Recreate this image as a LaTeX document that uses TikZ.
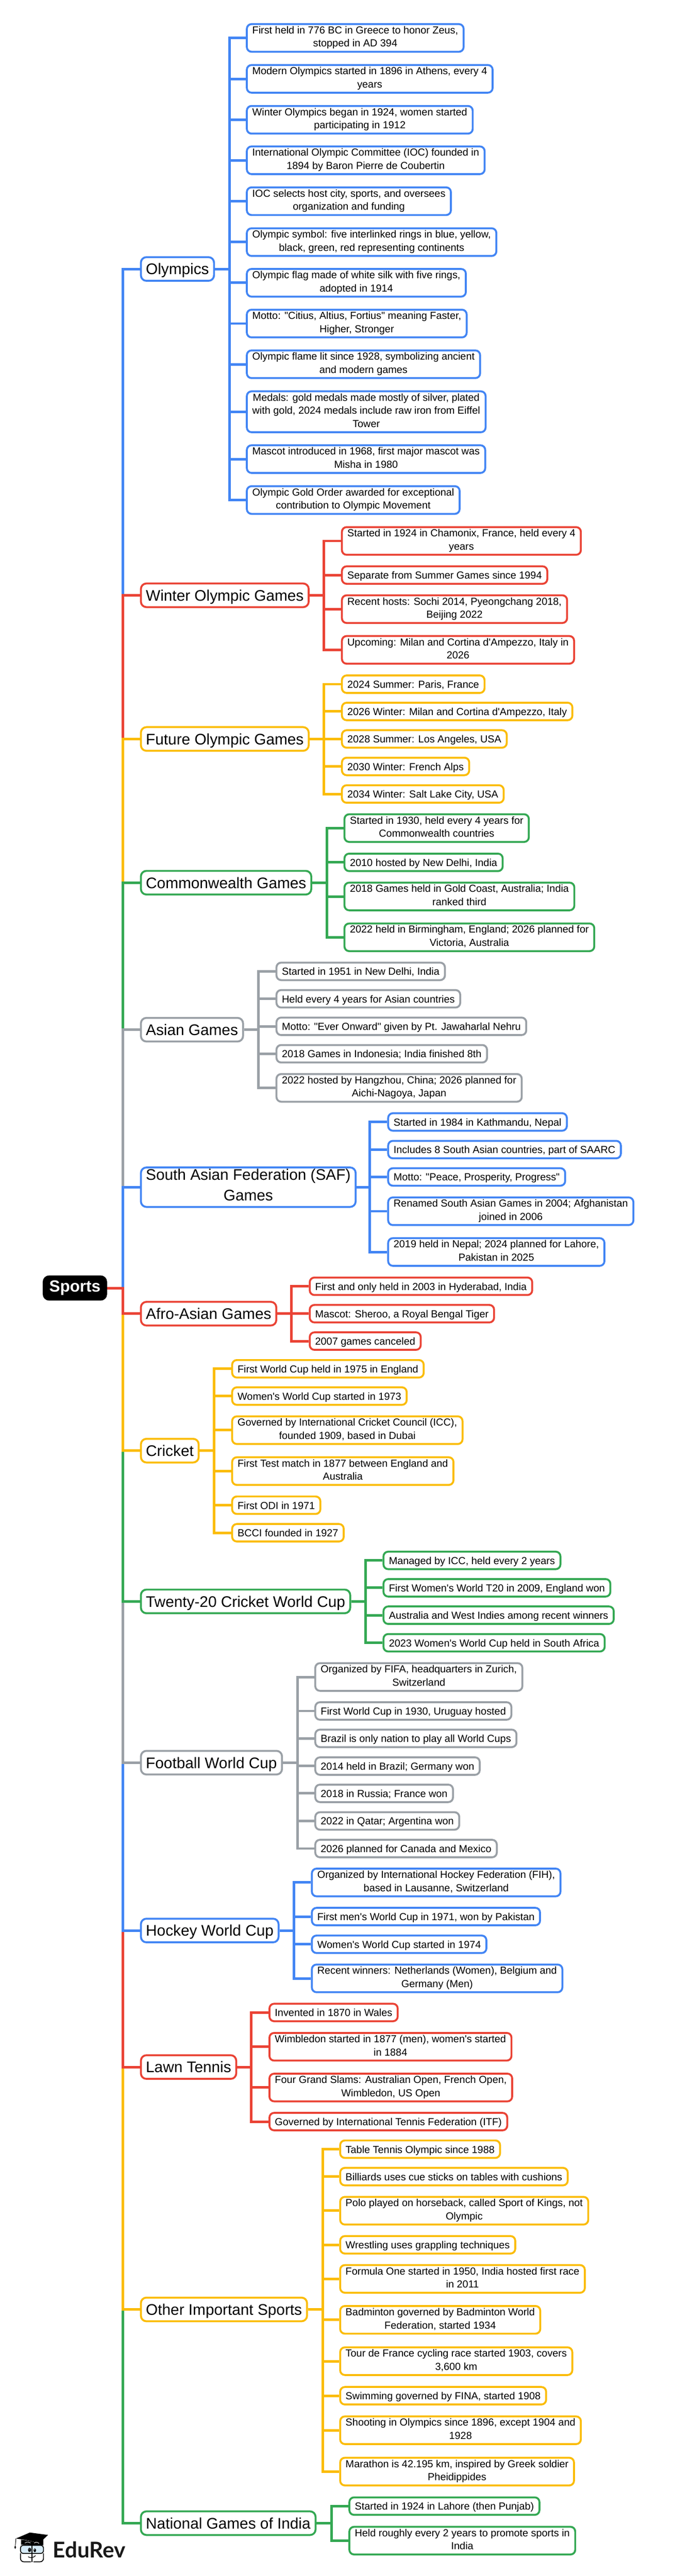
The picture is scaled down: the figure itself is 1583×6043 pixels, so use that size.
\documentclass[tikz,border=0pt]{standalone}
\usepackage{fontspec}
\newfontfamily\arial{Liberation Sans}
\newfontfamily\lato{Lato}[BoldFont={Lato Bold}]
\definecolor{gblue}{HTML}{4285F4}
\definecolor{gred}{HTML}{EA4335}
\definecolor{gyellow}{HTML}{FBBC04}
\definecolor{ggreen}{HTML}{34A853}
\definecolor{ggrey}{HTML}{9AA0A6}
\definecolor{glass}{HTML}{D6EBF8}
\tikzset{
  leafbox/.style={draw=#1,fill=white,line width=4.5pt,rounded corners=11pt,anchor=west,xshift=2.25pt,
    align=center,inner xsep=12.75pt,inner ysep=5pt,text=black,
    font=\arial\fontsize{24}{31}\selectfont,
    execute at begin node={\rule{0pt}{24.5pt}},execute at end node={\rule[-6.5pt]{0pt}{6.5pt}}},
  branchbox/.style={draw=#1,fill=white,line width=4.5pt,rounded corners=13pt,anchor=west,xshift=2.25pt,
    align=center,inner xsep=11.75pt,inner ysep=3.75pt,text=black,
    font=\arial\fontsize{36}{48}\selectfont,
    execute at begin node={\rule{0pt}{37pt}},execute at end node={\rule[-11pt]{0pt}{11pt}}},
  rootbox/.style={fill=black,rounded corners=15pt,anchor=west,text=white,minimum width=151pt,minimum height=59pt,
    inner sep=0pt,font=\arial\bfseries\fontsize{38}{46}\selectfont},
  conn/.style={draw=#1,line width=6pt},
}
\begin{document}
\begin{tikzpicture}[x=1pt,y=-1pt]
\useasboundingbox[fill=white] (0,0) rectangle (1583,6043);
% root
\node[rootbox] (root) at (100,3021.5) {Sports};
\coordinate (tr) at (288.5,0);
% branches
\node[branchbox=gblue] (olympics) at (326,631) {Olympics};
\node[branchbox=gred] (winter) at (326,1396.5) {Winter Olympic Games};
\node[branchbox=gyellow] (future) at (326,1733.5) {Future Olympic Games};
\node[branchbox=ggreen] (common) at (326,2070.7) {Commonwealth Games};
\node[branchbox=ggrey] (asian) at (326,2415.5) {Asian Games};
\node[branchbox=gblue] (saf) at (326,2785) {South Asian Federation (SAF)\\Games};
\node[branchbox=gred] (afro) at (326,3081.7) {Afro-Asian Games};
\node[branchbox=gyellow] (cricket) at (326,3403) {Cricket};
\node[branchbox=ggreen] (ttwenty) at (326,3756.7) {Twenty-20 Cricket World Cup};
\node[branchbox=ggrey] (football) at (326,4135) {Football World Cup};
\node[branchbox=gblue] (hockey) at (326,4528.7) {Hockey World Cup};
\node[branchbox=gred] (tennis) at (326,4849) {Lawn Tennis};
\node[branchbox=gyellow] (other) at (326,5417.6) {Other Important Sports};
\node[branchbox=ggreen] (national) at (326,5919) {National Games of India};
% Olympics
\coordinate (t1) at (539,0);
\node[leafbox=gblue] (a1) at (574.5,89) {First held in 776 BC in Greece to honor Zeus,\\stopped in AD 394};
\node[leafbox=gblue] (a2) at (574.5,185) {Modern Olympics started in 1896 in Athens, every 4\\years};
\node[leafbox=gblue] (a3) at (574.5,281) {Winter Olympics began in 1924, women started\\participating in 1912};
\node[leafbox=gblue] (a4) at (574.5,376) {International Olympic Committee (IOC) founded in\\1894 by Baron Pierre de Coubertin};
\node[leafbox=gblue] (a5) at (574.5,472) {IOC selects host city, sports, and oversees\\organization and funding};
\node[leafbox=gblue] (a6) at (574.5,568) {Olympic symbol: five interlinked rings in blue, yellow,\\black, green, red representing continents};
\node[leafbox=gblue] (a7) at (574.5,663.4) {Olympic flag made of white silk with five rings,\\adopted in 1914};
\node[leafbox=gblue] (a8) at (574.5,759) {Motto: "Citius, Altius, Fortius" meaning Faster,\\Higher, Stronger};
\node[leafbox=gblue] (a9) at (574.5,854.5) {Olympic flame lit since 1928, symbolizing ancient\\and modern games};
\node[leafbox=gblue] (a10) at (574.5,966) {Medals: gold medals made mostly of silver, plated\\with gold, 2024 medals include raw iron from Eiffel\\Tower};
\node[leafbox=gblue] (a11) at (574.5,1077) {Mascot introduced in 1968, first major mascot was\\Misha in 1980};
\node[leafbox=gblue] (a12) at (574.5,1173) {Olympic Gold Order awarded for exceptional\\contribution to Olympic Movement};
% Winter
\coordinate (t2) at (760,0);
\node[leafbox=gred] (b1) at (797.5,1269) {Started in 1924 in Chamonix, France, held every 4\\years};
\node[leafbox=gred] (b2) at (797.5,1349) {Separate from Summer Games since 1994};
\node[leafbox=gred] (b3) at (797.5,1429) {Recent hosts: Sochi 2014, Pyeongchang 2018,\\Beijing 2022};
\node[leafbox=gred] (b4) at (797.5,1524.5) {Upcoming: Milan and Cortina d'Ampezzo, Italy in\\2026};
% Future
\coordinate (t3) at (760,0);
\node[leafbox=gyellow] (c1) at (797.5,1605) {2024 Summer: Paris, France};
\node[leafbox=gyellow] (c2) at (797.5,1669) {2026 Winter: Milan and Cortina d'Ampezzo, Italy};
\node[leafbox=gyellow] (c3) at (797.5,1733.5) {2028 Summer: Los Angeles, USA};
\node[leafbox=gyellow] (c4) at (797.5,1798) {2030 Winter: French Alps};
\node[leafbox=gyellow] (c5) at (797.5,1862.6) {2034 Winter: Salt Lake City, USA};
% Commonwealth
\coordinate (t4) at (767,0);
\node[leafbox=ggreen] (d1) at (803.5,1942.6) {Started in 1930, held every 4 years for\\Commonwealth countries};
\node[leafbox=ggreen] (d2) at (803.5,2023) {2010 hosted by New Delhi, India};
\node[leafbox=ggreen] (d3) at (803.5,2103) {2018 Games held in Gold Coast, Australia; India\\ranked third};
\node[leafbox=ggreen] (d4) at (803.5,2198.8) {2022 held in Birmingham, England; 2026 planned for\\Victoria, Australia};
% Asian
\coordinate (t5) at (606.5,0);
\node[leafbox=ggrey] (e1) at (644,2278.7) {Started in 1951 in New Delhi, India};
\node[leafbox=ggrey] (e2) at (644,2343) {Held every 4 years for Asian countries};
\node[leafbox=ggrey] (e3) at (644,2407.6) {Motto: "Ever Onward" given by Pt. Jawaharlal Nehru};
\node[leafbox=ggrey] (e4) at (644,2472) {2018 Games in Indonesia; India finished 8th};
\node[leafbox=ggrey] (e5) at (644,2552) {2022 hosted by Hangzhou, China; 2026 planned for\\Aichi-Nagoya, Japan};
% SAF
\coordinate (t6) at (867.6,0);
\node[leafbox=gblue] (f1) at (906,2632) {Started in 1984 in Kathmandu, Nepal};
\node[leafbox=gblue] (f2) at (906,2696.8) {Includes 8 South Asian countries, part of SAARC};
\node[leafbox=gblue] (f3) at (906,2761) {Motto: "Peace, Prosperity, Progress"};
\node[leafbox=gblue] (f4) at (906,2841.4) {Renamed South Asian Games in 2004; Afghanistan\\joined in 2006};
\node[leafbox=gblue] (f5) at (906,2937) {2019 held in Nepal; 2024 planned for Lahore,\\Pakistan in 2025};
% Afro
\coordinate (t7) at (684,0);
\node[leafbox=gred] (g1) at (722,3017.4) {First and only held in 2003 in Hyderabad, India};
\node[leafbox=gred] (g2) at (722,3081.7) {Mascot: Sheroo, a Royal Bengal Tiger};
\node[leafbox=gred] (g3) at (722,3146) {2007 games canceled};
% Cricket
\coordinate (t8) at (502.4,0);
\node[leafbox=gyellow] (h1) at (540,3211) {First World Cup held in 1975 in England};
\node[leafbox=gyellow] (h2) at (540,3275) {Women's World Cup started in 1973};
\node[leafbox=gyellow] (h3) at (540,3355) {Governed by International Cricket Council (ICC),\\founded 1909, based in Dubai};
\node[leafbox=gyellow] (h4) at (540,3451) {First Test match in 1877 between England and\\Australia};
\node[leafbox=gyellow] (h5) at (540,3531) {First ODI in 1971};
\node[leafbox=gyellow] (h6) at (540,3595.6) {BCCI founded in 1927};
% T20
\coordinate (t9) at (858,0);
\node[leafbox=ggreen] (i1) at (895,3660.5) {Managed by ICC, held every 2 years};
\node[leafbox=ggreen] (i2) at (895,3724.8) {First Women's World T20 in 2009, England won};
\node[leafbox=ggreen] (i3) at (895,3789) {Australia and West Indies among recent winners};
\node[leafbox=ggreen] (i4) at (895,3853.7) {2023 Women's World Cup held in South Africa};
% Football
\coordinate (t10) at (698,0);
\node[leafbox=ggrey] (j1) at (735,3934) {Organized by FIFA, headquarters in Zurich,\\Switzerland};
\node[leafbox=ggrey] (j2) at (735,4013.7) {First World Cup in 1930, Uruguay hosted};
\node[leafbox=ggrey] (j3) at (735,4078) {Brazil is only nation to play all World Cups};
\node[leafbox=ggrey] (j4) at (735,4143) {2014 held in Brazil; Germany won};
\node[leafbox=ggrey] (j5) at (735,4207) {2018 in Russia; France won};
\node[leafbox=ggrey] (j6) at (735,4271.7) {2022 in Qatar; Argentina won};
\node[leafbox=ggrey] (j7) at (735,4336.4) {2026 planned for Canada and Mexico};
% Hockey
\coordinate (t11) at (690,0);
\node[leafbox=gblue] (k1) at (727,4416) {Organized by International Hockey Federation (FIH),\\based in Lausanne, Switzerland};
\node[leafbox=gblue] (k2) at (727,4496) {First men's World Cup in 1971, won by Pakistan};
\node[leafbox=gblue] (k3) at (727,4561) {Women's World Cup started in 1974};
\node[leafbox=gblue] (k4) at (727,4641) {Recent winners: Netherlands (Women), Belgium and\\Germany (Men)};
% Tennis
\coordinate (t12) at (589.4,0);
\node[leafbox=gred] (l1) at (627.5,4721) {Invented in 1870 in Wales};
\node[leafbox=gred] (l2) at (627.5,4801.4) {Wimbledon started in 1877 (men), women's started\\in 1884};
\node[leafbox=gred] (l3) at (627.5,4897) {Four Grand Slams: Australian Open, French Open,\\Wimbledon, US Open};
\node[leafbox=gred] (l4) at (627.5,4977) {Governed by International Tennis Federation (ITF)};
% Other
\coordinate (t13) at (757,0);
\node[leafbox=gyellow] (m1) at (793.4,5041.7) {Table Tennis Olympic since 1988};
\node[leafbox=gyellow] (m2) at (793.4,5106) {Billiards uses cue sticks on tables with cushions};
\node[leafbox=gyellow] (m3) at (793.4,5186) {Polo played on horseback, called Sport of Kings, not\\Olympic};
\node[leafbox=gyellow] (m4) at (793.4,5266) {Wrestling uses grappling techniques};
\node[leafbox=gyellow] (m5) at (793.4,5346) {Formula One started in 1950, India hosted first race\\in 2011};
\node[leafbox=gyellow] (m6) at (793.4,5442) {Badminton governed by Badminton World\\Federation, started 1934};
\node[leafbox=gyellow] (m7) at (793.4,5539) {Tour de France cycling race started 1903, covers\\3,600 km};
\node[leafbox=gyellow] (m8) at (793.4,5620) {Swimming governed by FINA, started 1908};
\node[leafbox=gyellow] (m9) at (793.4,5701) {Shooting in Olympics since 1896, except 1904 and\\1928};
\node[leafbox=gyellow] (m10) at (793.4,5798) {Marathon is 42.195 km, inspired by Greek soldier\\Pheidippides};
% National
\coordinate (t14) at (777.6,0);
\node[leafbox=ggreen] (n1) at (815,5879) {Started in 1924 in Lahore (then Punjab)};
\node[leafbox=ggreen] (n2) at (815,5960) {Held roughly every 2 years to promote sports in\\India};
% trunk: later elbows overdraw earlier ones
\foreach \b/\c in {olympics/gblue,winter/gred,future/gyellow,common/ggreen,asian/ggrey,saf/gblue,
                   national/ggreen,other/gyellow,tennis/gred,hockey/gblue,football/ggrey,ttwenty/ggreen,cricket/gyellow,afro/gred}
  \draw[conn=\c] (root.east) -- (root.east -| tr) |- (\b.west);
% sub-branches
\foreach \n in {a1,a2,a3,a4,a5,a6,a7,a8,a9,a10,a11,a12} \draw[conn=gblue] (olympics.east) -- (olympics.east -| t1) |- (\n.west);
\foreach \n in {b1,b2,b3,b4} \draw[conn=gred] (winter.east) -- (winter.east -| t2) |- (\n.west);
\foreach \n in {c1,c2,c3,c4,c5} \draw[conn=gyellow] (future.east) -- (future.east -| t3) |- (\n.west);
\foreach \n in {d1,d2,d3,d4} \draw[conn=ggreen] (common.east) -- (common.east -| t4) |- (\n.west);
\foreach \n in {e1,e2,e3,e4,e5} \draw[conn=ggrey] (asian.east) -- (asian.east -| t5) |- (\n.west);
\foreach \n in {f1,f2,f3,f4,f5} \draw[conn=gblue] (saf.east) -- (saf.east -| t6) |- (\n.west);
\foreach \n in {g1,g2,g3} \draw[conn=gred] (afro.east) -- (afro.east -| t7) |- (\n.west);
\foreach \n in {h1,h2,h3,h4,h5,h6} \draw[conn=gyellow] (cricket.east) -- (cricket.east -| t8) |- (\n.west);
\foreach \n in {i1,i2,i3,i4} \draw[conn=ggreen] (ttwenty.east) -- (ttwenty.east -| t9) |- (\n.west);
\foreach \n in {j1,j2,j3,j4,j5,j6,j7} \draw[conn=ggrey] (football.east) -- (football.east -| t10) |- (\n.west);
\foreach \n in {k1,k2,k3,k4} \draw[conn=gblue] (hockey.east) -- (hockey.east -| t11) |- (\n.west);
\foreach \n in {l1,l2,l3,l4} \draw[conn=gred] (tennis.east) -- (tennis.east -| t12) |- (\n.west);
\foreach \n in {m1,m2,m3,m4,m5,m6,m7,m8,m9,m10} \draw[conn=gyellow] (other.east) -- (other.east -| t13) |- (\n.west);
\foreach \n in {n1,n2} \draw[conn=ggreen] (national.east) -- (national.east -| t14) |- (\n.west);
% logo
\begin{scope}[shift={(20,5935)},x=0.3333pt,y=-0.3333pt]
  \fill[glass,rounded corners=4pt] (84,108) rectangle (246,165);
  \draw[line width=2pt,rounded corners=6pt] (84,108) rectangle (246,165);
  \fill (88,68) -- (120,72) -- (218,92) -- (245,60) -- (245,108) -- (88,104) -- cycle;
  \fill (52,60) -- (150,18) -- (278,35) -- (218,92) -- (120,70) -- cycle;
  \draw[line width=1.2pt] (52,60) -- (48,108);
  \fill (47,108) -- (53,122) -- (47,134) -- (41,122) -- cycle;
  \draw[white,line width=1pt] (115,92) .. controls (130,80) and (145,85) .. (155,92);
  \draw[white,line width=1pt] (180,92) .. controls (195,82) and (205,85) .. (215,95);
  \draw[line width=2pt] (166,100) -- (166,226);
  \fill (148,140) ellipse [x radius=11,y radius=15];
  \fill (185,143) ellipse [x radius=9,y radius=13];
  \fill[white] (145,134) circle (3);
  \fill[white] (183,138) circle (3);
  \draw[line width=2pt,rounded corners=8pt] (84,165) -- (84,224) -- (158,224);
  \draw[line width=2pt,rounded corners=8pt] (246,165) -- (246,224) -- (176,224);
  \draw[line width=1.5pt] (138,188) .. controls (150,198) and (175,198) .. (190,180);
\end{scope}
\node[anchor=base west,inner sep=0pt,font=\lato\bfseries\fontsize{51}{51}\selectfont,text=black!90] (logotext) at (124,6000) {EduRev};
\end{tikzpicture}
\end{document}
